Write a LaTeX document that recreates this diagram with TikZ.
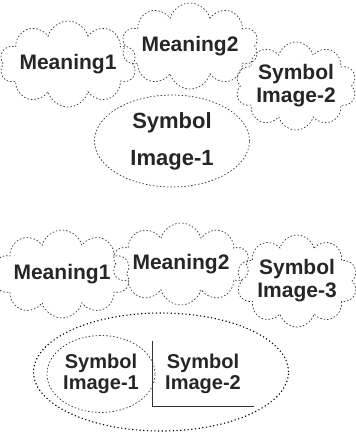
\documentclass[tikz,border=0pt]{standalone}
\usepackage{fontspec}
\setmainfont{Liberation Sans}
\usetikzlibrary{shapes.symbols,shapes.geometric}
\begin{document}
\begin{tikzpicture}[x=1pt,y=-1pt,
  txt/.style={font=\bfseries\fontsize{21}{23}\selectfont, text=black!85},
  bub/.style={cloud, cloud puffs=10, cloud ignores aspect, draw=black!80, dash pattern=on 1.5pt off 2pt, line width=0.7pt, inner sep=0pt, align=center, txt},
  ell/.style={ellipse, draw=black!80, dash pattern=on 1.5pt off 2pt, line width=0.7pt, inner sep=0pt, align=center, txt},
  big/.style={ellipse, draw=black, dash pattern=on 1.2pt off 2.5pt, line width=1.1pt, inner sep=0pt},
  lbl/.style={align=center, inner sep=0pt, txt}]
\useasboundingbox (0,0) rectangle (356,432);
% top group
\node[bub, minimum width=125pt, minimum height=86pt] (m1) at (68,64) {Meaning1};
\node[bub, minimum width=114pt, minimum height=86pt] (m2) at (190,46) {Meaning2};
\node[bub, minimum width=116pt, minimum height=88pt] (s2) at (296,86) {Symbol\\Image-2};
\node[ell, minimum width=155pt, minimum height=92pt, font=\bfseries\fontsize{22}{37}\selectfont] (s1) at (172,141) {Symbol\\Image-1};
% bottom group
\node[bub, minimum width=118pt, minimum height=88pt] (m1b) at (62,274) {Meaning1};
\node[bub, minimum width=120pt, minimum height=82pt] (m2b) at (181,264) {Meaning2};
\node[bub, minimum width=114pt, minimum height=92pt] (s3b) at (297,281) {Symbol\\Image-3};
\node[big, minimum width=255pt, minimum height=118pt] (grp) at (161,372) {};
\node[ell, minimum width=108pt, minimum height=77pt, font=\bfseries\fontsize{20}{21}\selectfont] (s1b) at (101,374) {Symbol\\Image-1};
\node[lbl, minimum width=101pt, minimum height=65pt, font=\bfseries\fontsize{20}{21}\selectfont] (s2b) at (203,373.5) {Symbol\\Image-2};
\draw[black!80, line width=0.8pt] (s2b.north west) -- (s2b.south west) -- (s2b.south east);
\end{tikzpicture}
\end{document}
